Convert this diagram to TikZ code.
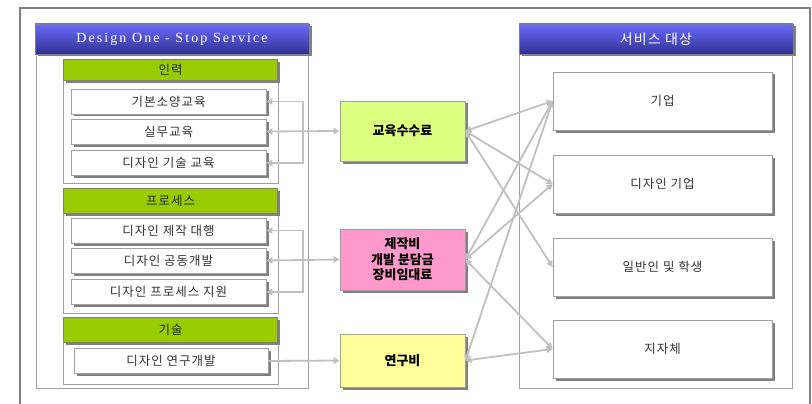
\documentclass[tikz,border=0pt]{standalone}
\usepackage{fontspec}
\setmainfont{Noto Sans CJK KR}
\newfontfamily\titlefont[LetterSpace=15]{Liberation Serif}
\newfontfamily\krsp[LetterSpace=8]{Noto Sans CJK KR}
\usetikzlibrary{arrows.meta,shadows}
\definecolor{linegray}{HTML}{C0C0C0}
\definecolor{boxgray}{HTML}{A0A0A0}
\definecolor{shad}{HTML}{808080}
\definecolor{grn}{HTML}{99CC00}
\definecolor{c1}{HTML}{DDFF7F}
\definecolor{c2}{HTML}{FF99CC}
\definecolor{c3}{HTML}{FFFF99}
\definecolor{bartop}{HTML}{6B6BFF}
\definecolor{barbot}{HTML}{303090}
\tikzset{
  shd/.style={general shadow={fill=shad, shadow xshift=2.5pt, shadow yshift=-2.5pt}},
  item/.style={draw=boxgray, line width=0.8pt, fill=white, shd, minimum width=195pt, minimum height=25pt, inner sep=0pt, font=\krsp\fontsize{12.5}{14}\selectfont, text=black!80},
  ritem/.style={draw=boxgray, line width=0.8pt, fill=white, shd, minimum width=219pt, minimum height=58pt, inner sep=0pt, font=\krsp\fontsize{12.5}{14}\selectfont, text=black!80},
  mbox/.style={draw=boxgray, line width=0.8pt, shd, minimum width=125pt, inner sep=0pt, align=center, font=\fontsize{13}{15.5}\selectfont\bfseries},
  ghead/.style={draw=shad, line width=0.6pt, fill=grn, shd, minimum width=214pt, inner sep=0pt, font=\krsp\fontsize{12.5}{14}\selectfont, text=black!85},
  gbody/.style={draw=boxgray, line width=0.8pt},
  panel/.style={draw=boxgray, line width=0.8pt},
  tbar/.style={draw=shad, line width=0.6pt, top color=bartop, bottom color=barbot, shd, inner sep=0pt, text=white},
  conn/.style={draw=linegray, line width=1.8pt, {Triangle[length=6pt,width=6.5pt]}-{Triangle[length=6pt,width=6.5pt]}},
  connr/.style={draw=linegray, line width=1.8pt, -{Triangle[length=6pt,width=6.5pt]}},
}
\begin{document}
\begin{tikzpicture}[x=1pt,y=-1pt]
\useasboundingbox (0,0) rectangle (812,404);
% outer frame
\draw[shad, line width=1.6pt] (20,420) -- (20,8) -- (810,8) -- (810,420);
% panels
\draw[panel] (36,54) rectangle (308,388);
\draw[panel] (519,54) rectangle (792,388);
\node[tbar, minimum width=274pt, minimum height=30pt, font=\titlefont\fontsize{14}{16}\selectfont] (lt) at (172,39) {Design One - Stop Service};
\node[tbar, minimum width=274pt, minimum height=30pt, font=\krsp\fontsize{14}{16}\selectfont] (rt) at (656,39) {서비스 대상};
% group bodies
\draw[gbody] (63,80) rectangle (278,183);
\draw[gbody] (63,213) rectangle (278,313);
\draw[gbody] (63,342) rectangle (278,384);
\node[ghead, minimum height=21pt] (h1) at (170.5,70) {인력};
\node[ghead, minimum height=25pt] (h2) at (170.5,200.5) {프로세스};
\node[ghead, minimum height=25pt] (h3) at (170.5,329.5) {기술};
% left items
\node[item] (i1) at (168.5,101.5) {기본소양교육};
\node[item] (i2) at (168.5,131.5) {실무교육};
\node[item] (i3) at (168.5,163) {디자인 기술 교육};
\node[item] (p1) at (168.5,230.5) {디자인 제작 대행};
\node[item] (p2) at (168.5,260.5) {디자인 공동개발};
\node[item] (p3) at (168.5,292) {디자인 프로세스 지원};
\node[item, minimum width=194pt] (t1) at (171,361) {디자인 연구개발};
% middle boxes
\node[mbox, fill=c1, minimum height=60pt] (m1) at (402.5,131) {교육수수료};
\node[mbox, fill=c2, minimum height=61pt] (m2) at (402.5,259.5) {제작비\\개발 분담금\\장비임대료};
\node[mbox, fill=c3, minimum height=53pt] (m3) at (402.5,360.5) {연구비};
% right items
\node[ritem] (r1) at (662.5,101) {기업};
\node[ritem] (r2) at (662.5,184) {디자인 기업};
\node[ritem] (r3) at (662.5,267) {일반인 및 학생};
\node[ritem] (r4) at (662.5,349) {지자체};
% left connectors
\coordinate (bx) at (303,0);
\draw[conn] (i1.east) -- (i1.east -| bx) -- (i3.east -| bx) -- (i3.east);
\draw[conn] (i2.east) -- (m1.west);
\draw[conn] (p1.east) -- (p1.east -| bx) -- (p3.east -| bx) -- (p3.east);
\draw[conn] (p2.east) -- (m2.west);
\draw[connr] (t1.east) -- (m3.west);
% right connectors
\draw[conn] (m1.east) -- (r1.west);
\draw[conn] (m1.east) -- (r2.west);
\draw[conn] (m1.east) -- (r3.west);
\draw[conn] (m2.east) -- (r1.west);
\draw[conn] (m2.east) -- (r2.west);
\draw[conn] (m2.east) -- (r4.west);
\draw[conn] (m3.east) -- (r1.west);
\draw[conn] (m3.east) -- (r4.west);
\end{tikzpicture}
\end{document}
